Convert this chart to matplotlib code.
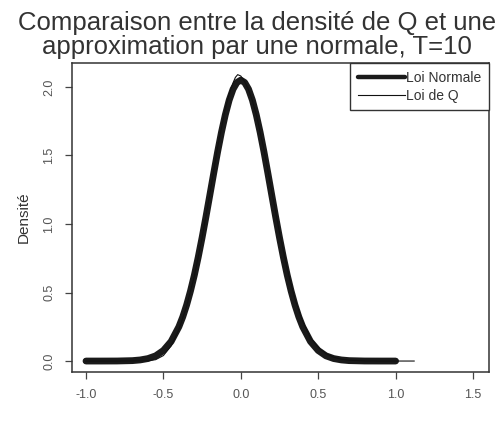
import matplotlib
matplotlib.use("Agg")
import matplotlib.pyplot as plt

# Normal approximation
x_norm = [-1.0, -0.9, -0.8, -0.7, -0.65, -0.6, -0.55, -0.5, -0.45, -0.4, -0.375, -0.35, -0.325,
          -0.3, -0.275, -0.25, -0.225, -0.2, -0.175, -0.15, -0.125, -0.1, -0.075, -0.05, -0.025,
          0.0, 0.025, 0.05, 0.075, 0.1, 0.125, 0.15, 0.175, 0.2, 0.225, 0.25, 0.275, 0.3, 0.325,
          0.35, 0.375, 0.4, 0.45, 0.5, 0.55, 0.6, 0.65, 0.7, 0.8, 0.9, 1.0]
y_norm = [0.0, 0.0, 0.0003, 0.003, 0.008, 0.018, 0.038, 0.077, 0.143, 0.250, 0.322, 0.409, 0.511,
          0.627, 0.758, 0.901, 1.053, 1.211, 1.370, 1.525, 1.669, 1.797, 1.904, 1.984, 2.033,
          2.05, 2.033, 1.984, 1.904, 1.797, 1.669, 1.525, 1.370, 1.211, 1.053, 0.901, 0.758, 0.627, 0.511,
          0.409, 0.322, 0.250, 0.143, 0.077, 0.038, 0.018, 0.008, 0.003, 0.0003, 0.0, 0.0]

# Density of Q
x_q = [-1.0, -0.8, -0.6, -0.55, -0.5, -0.45, -0.4, -0.35, -0.3, -0.25, -0.2, -0.15, -0.1,
       -0.075, -0.05, -0.035, -0.02, 0.0, 0.025, 0.05, 0.075, 0.1, 0.15, 0.2, 0.25, 0.3, 0.35,
       0.4, 0.45, 0.5, 0.55, 0.6, 0.65, 0.7, 0.8, 0.9, 1.0, 1.12]
y_q = [0.0, 0.0, 0.002, 0.01, 0.04, 0.11, 0.23, 0.40, 0.62, 0.90, 1.22, 1.56, 1.84,
       1.95, 2.03, 2.07, 2.09, 2.08, 2.04, 1.98, 1.90, 1.80, 1.54, 1.24, 0.94, 0.67, 0.45,
       0.29, 0.17, 0.10, 0.055, 0.028, 0.013, 0.006, 0.001, 0.0, 0.0, 0.0]

x_ticks = [-1.0, -0.5, 0.0, 0.5, 1.0, 1.5]
y_ticks = [0.0, 0.5, 1.0, 1.5, 2.0]

title = "Comparaison entre la densité de Q et une\napproximation par une normale, T=10"
ylabel = "Densité"
labels = ["Loi Normale", "Loi de Q"]

plt.rcParams['font.family'] = ['Liberation Sans', 'DejaVu Sans']

W, H = 498, 428
fig = plt.figure(figsize=(W / 100, H / 100), dpi=100)
ax = fig.add_axes([72 / W, 1 - 372 / H, (489 - 72) / W, (372 - 63) / H])

ax.plot(x_norm, y_norm, color="#1a1a1a", lw=4.9, solid_capstyle="round", label=labels[0], zorder=2)
ax.plot(x_q, y_q, color="#111111", lw=0.8, label=labels[1], zorder=3)

ax.set_xlim(-1.0904, 1.6034)
ax.set_ylim(-0.080, 2.175)
ax.set_xticks(x_ticks)
ax.set_xticklabels(["%.1f" % v for v in x_ticks])
ax.set_yticks(y_ticks)
ax.set_yticklabels(["%.1f" % v for v in y_ticks], rotation=90, va="center")

for s in ax.spines.values():
    s.set_color("#333333")
    s.set_linewidth(1.1)
ax.tick_params(axis="both", direction="out", length=5, width=0.9, color="#444444",
               labelsize=9, labelcolor="#555555")
ax.tick_params(axis="x", pad=7)
ax.tick_params(axis="y", pad=7)

ax.set_ylabel(ylabel, fontsize=11, color="#333333", labelpad=9)

fig.text(257 / W, 1 - 35 / H, title, ha="center", va="center", fontsize=18.5,
         color="#333333", linespacing=1.02)

leg = ax.legend(loc="upper right", borderaxespad=0, fancybox=False, frameon=True,
                fontsize=10, handlelength=3.4, handletextpad=0.1, borderpad=0.55,
                labelspacing=0.3, framealpha=1)
leg.get_frame().set_edgecolor("#333333")
leg.get_frame().set_linewidth(1.0)
for t in leg.get_texts():
    t.set_color("#333333")
leg.get_lines()[0].set_linewidth(3.2)

fig.savefig("out.png", dpi=100)
